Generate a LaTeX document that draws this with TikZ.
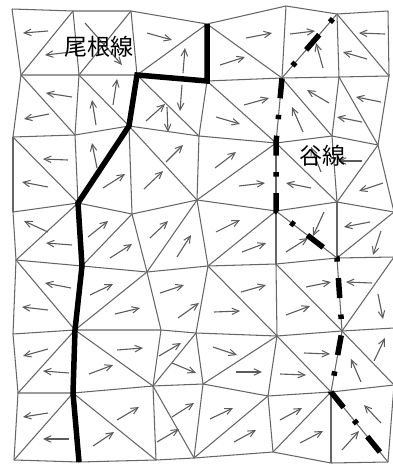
\documentclass[tikz,border=0pt]{standalone}
\usepackage{fontspec}
\newfontfamily\cjk{Noto Sans CJK JP}
\usetikzlibrary{arrows.meta}
\definecolor{meshc}{gray}{0.40}
\definecolor{arrc}{gray}{0.36}
\tikzset{
  x=1pt,y=-1pt,
  mesh/.style={draw=meshc,line width=1.05pt},
  vec/.style={draw=arrc,line width=1.1pt,-{Straight Barb[length=7pt,width=6.5pt,line width=1pt]}},
  ridge/.style={draw=black,line width=5.5pt,line join=miter},
  valley/.style={draw=black,line width=5.5pt,dash pattern=on 20pt off 16.5pt on 4.5pt off 16.5pt,dash phase=30.2pt},
  lab/.style={font=\cjk\fontsize{23}{25}\selectfont,inner sep=0pt,text=black}
}
\begin{document}
\begin{tikzpicture}
\useasboundingbox (0,0) rectangle (393,464);
\fill[white] (0,0) rectangle (393,464);
% vertices
\foreach \n/\x/\y in {
 a0/12/9,a1/73/11,a2/131/11,a3/207/24,a4/286/6,a5/337/14,a6/388/11,
 b0/21/75,b1/79/75,b2/137/75,b3/207/81,b4/282/78,b5/339/77,b6/389/76,
 c0/13/137,c1/75/135,c2/129/126,c3/199/136,c4/276/143,c5/332/136,c6/378/145,
 d0/13/212,d1/78/203,d2/132/214,d3/197/200,d4/276/211,d5/337/202,d6/394/212,
 e0/16/260,e1/82/266,e2/147/272,e3/208/266,e4/276/264,e5/337/258,e6/394/257,
 f0/13/334,f1/75/330,f2/161/330,f3/196/333,f4/277/336,f5/342/331,f6/394/328,
 g0/18/393,g1/73/393,g2/153/386,g3/203/384,g4/268/396,g5/331/392,g6/394/385,
 h0/14/460,h1/79/462,h2/156/460,h3/194/458,h4/273/452,h5/331/463,h6/388/462}
  {\coordinate (\n) at (\x,\y);}
% mesh horizontals
\foreach \r in {a,b,c,d,e,f,g,h}
  \draw[mesh] (\r0)--(\r1)--(\r2)--(\r3)--(\r4)--(\r5)--(\r6);
% mesh verticals
\foreach \p/\q in {a/b,b/c,c/d,d/e,e/f,f/g,g/h}
  \foreach \i in {0,...,6}
    \draw[mesh] (\p\i)--(\q\i);
% mesh diagonals
\foreach \p/\q in {a1/b0,a2/b1,a3/b2,a3/b4,a5/b4,a5/b6,
  b0/c1,b1/c2,b2/c3,b3/c4,b4/c5,b5/c6,
  c0/d1,c2/d3,c4/d3,c4/d5,c6/d5,
  d1/e0,d2/e1,d3/e2,d4/e3,d4/e5,d6/e5,
  e0/f1,e2/f1,e3/f4,e4/f5,e6/f5,
  f1/g0,f1/g2,f3/g2,f4/g3,f4/g5,f5/g6,
  g1/h0,g1/h2,g2/h3,g4/h3,g5/h4,g5/h6}
  \draw[mesh] (\p)--(\q);
% arrows
\foreach \xa/\ya/\xb/\yb in {
 48/31/23/33,72/52/45/55,85/23/122/65,147/33/172/40,183/73/185/48,182/85/180/111,
 72/97/46/93,49/114/24/119,113/105/117/79,96/125/92/100,146/121/165/104,167/107/168/132,
 97/168/92/143,166/162/183/145,246/38/272/33,220/65/245/57,290/34/315/31,323/68/316/43,
 385/34/359/33,367/59/343/52,244/105/269/98,216/117/240/124,329/103/307/90,303/132/292/107,
 381/102/356/97,362/122/337/117,68/160/43/159,48/187/22/182,103/188/125/174,144/189/163/171,
 48/232/24/221,72/245/46/243,88/237/108/221,110/258/132/244,150/238/168/221,177/257/191/235,
 71/288/45/283,90/295/113/284,160/293/184/285,215/168/236/152,239/186/265/183,311/188/286/183,
 321/172/311/147,362/161/338/161,383/183/359/191,216/232/240/220,242/252/266/243,286/252/308/238,
 324/212/313/236,370/222/344/227,381/231/373/255,241/292/266/285,306/287/331/282,372/283/346/282,
 378/294/383/319,48/310/22/307,115/314/140/308,178/318/199/303,48/349/23/356,117/350/143/348,
 159/356/181/343,172/363/196/373,69/373/43/371,89/374/113/365,48/413/23/417,69/439/43/439,
 117/420/139/407,93/446/114/432,172/417/194/403,157/442/179/429,214/312/240/311,286/315/310/306,
 213/347/237/355,236/372/262/372,280/374/306/375,304/353/330/354,361/382/351/359,374/361/385/338,
 210/419/233/408,234/442/256/430,280/420/302/408,300/443/323/431,342/450/359/431,381/423/364/405}
  \draw[vec] (\xa,\ya)--(\xb,\yb);
% ridge and valley lines
\draw[ridge] (a3)--(b3)--(b2)--(c2)--(d1)--(e1)--(f1)--(g1)--(h1);
\draw[valley] (a5)--(b4)--(c4)--(d4)--(e5)--(f5)--(g5)--(h6);
% labels
\node[lab] (ridgelabel) at (99,47) {尾根線};
\node[lab] (valleylabel) at (322,156) {谷線};
\end{tikzpicture}
\end{document}
